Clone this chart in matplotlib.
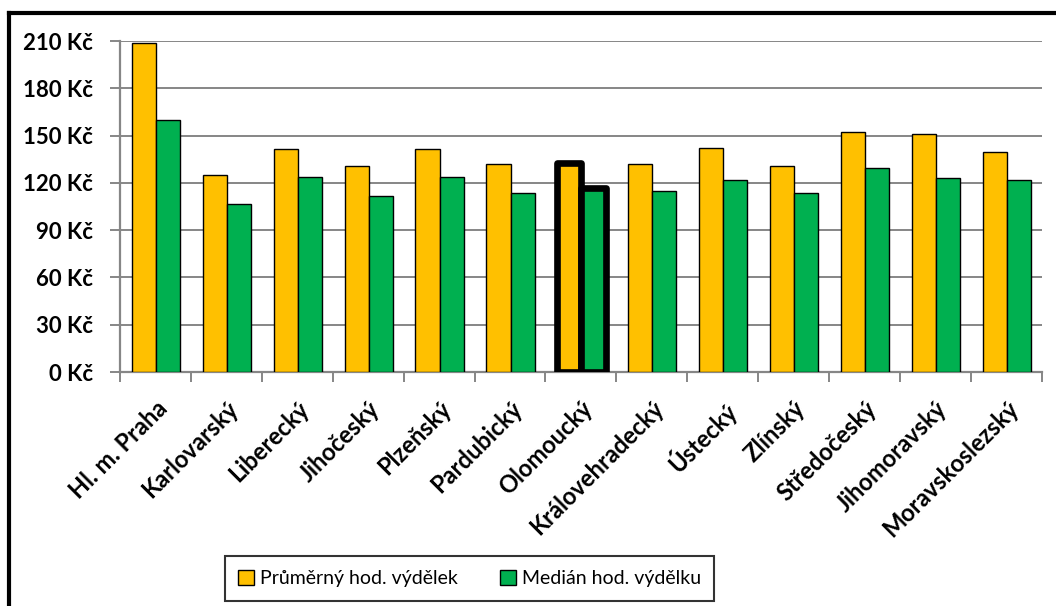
import matplotlib.pyplot as plt
from matplotlib.lines import Line2D
import numpy as np

regions = ["Hl. m. Praha", "Karlovarský", "Liberecký", "Jihočeský", "Plzeňský",
           "Pardubický", "Olomoucký", "Královehradecký", "Ústecký", "Zlínský",
           "Středočeský", "Jihomoravský", "Moravskoslezský"]
prumer = [209.0, 125.2, 141.7, 130.4, 141.7, 132.0, 132.5, 132.0, 142.2, 130.7, 152.1, 151.0, 139.6]
median = [159.6, 106.7, 123.5, 111.4, 123.5, 113.7, 117.0, 114.8, 121.8, 113.5, 129.4, 123.3, 121.8]
yticks = [0, 30, 60, 90, 120, 150, 180, 210]
highlight = "Olomoucký"

yellow = "#FFC000"
green = "#00B050"
grey = "#868686"

plt.rcParams['font.family'] = ['Lato', 'DejaVu Sans']

fig = plt.figure(figsize=(10.56, 6.06), dpi=100)
ax = fig.add_axes([0.1136, 0.3861, 0.8731, 0.5462])

x = np.arange(len(regions))
w = 0.34
b1 = ax.bar(x - w / 2 + 0.007, prumer, w, color=yellow, edgecolor="black", linewidth=1.0, zorder=3)
b2 = ax.bar(x + w / 2 + 0.007, median, w, color=green, edgecolor="black", linewidth=1.0, zorder=3)

# highlighted region gets a heavy outline
hi = regions.index(highlight)
for b in (b1[hi], b2[hi]):
    b.set_linewidth(4.8)
    b.set_joinstyle("round")
    b.set_zorder(4)

ax.set_xlim(-0.5, len(regions) - 0.5)
ax.set_ylim(0, 210)
ax.set_yticks(yticks)
ax.set_yticklabels(["{} Kč".format(v) for v in yticks], fontsize=16, fontweight="bold")
ax.yaxis.grid(True, color=grey, linewidth=1.4, zorder=0)
ax.set_axisbelow(True)

ax.set_xticks(x)
ax.set_xticklabels(regions, rotation=45, ha="right", va="top", rotation_mode="anchor",
                   fontsize=17, fontweight="bold")
ax.tick_params(axis="x", length=0, pad=18)
ax.set_xticks(np.arange(-0.5, len(regions)), minor=True)
ax.tick_params(axis="x", which="minor", length=7, width=1.4, color=grey, direction="out")
ax.tick_params(axis="y", length=7.5, width=1.4, color=grey, pad=12)

for s in ("top", "right"):
    ax.spines[s].set_visible(False)
for s in ("left", "bottom"):
    ax.spines[s].set_color(grey)
    ax.spines[s].set_linewidth(1.6)

# outer chart frame
fig.add_artist(Line2D([9 / 1056, 9 / 1056], [0, 1 - 13 / 606], color="black", linewidth=3,
                      transform=fig.transFigure))
fig.add_artist(Line2D([9 / 1056, 1.0], [1 - 13 / 606, 1 - 13 / 606], color="black", linewidth=3,
                      transform=fig.transFigure))

leg = fig.legend([b1, b2], ["Průměrný hod. výdělek", "Medián hod. výdělku"],
                 loc="center", bbox_to_anchor=(469.5 / 1056, 1 - 578.5 / 606),
                 ncol=2, frameon=True, fancybox=False, edgecolor="black",
                 fontsize=14, handlelength=0.8, handleheight=0.8, handletextpad=0.3,
                 columnspacing=2.2, borderpad=0.7)
leg.get_frame().set_linewidth(1.5)

fig.savefig("out.png", dpi=100)
